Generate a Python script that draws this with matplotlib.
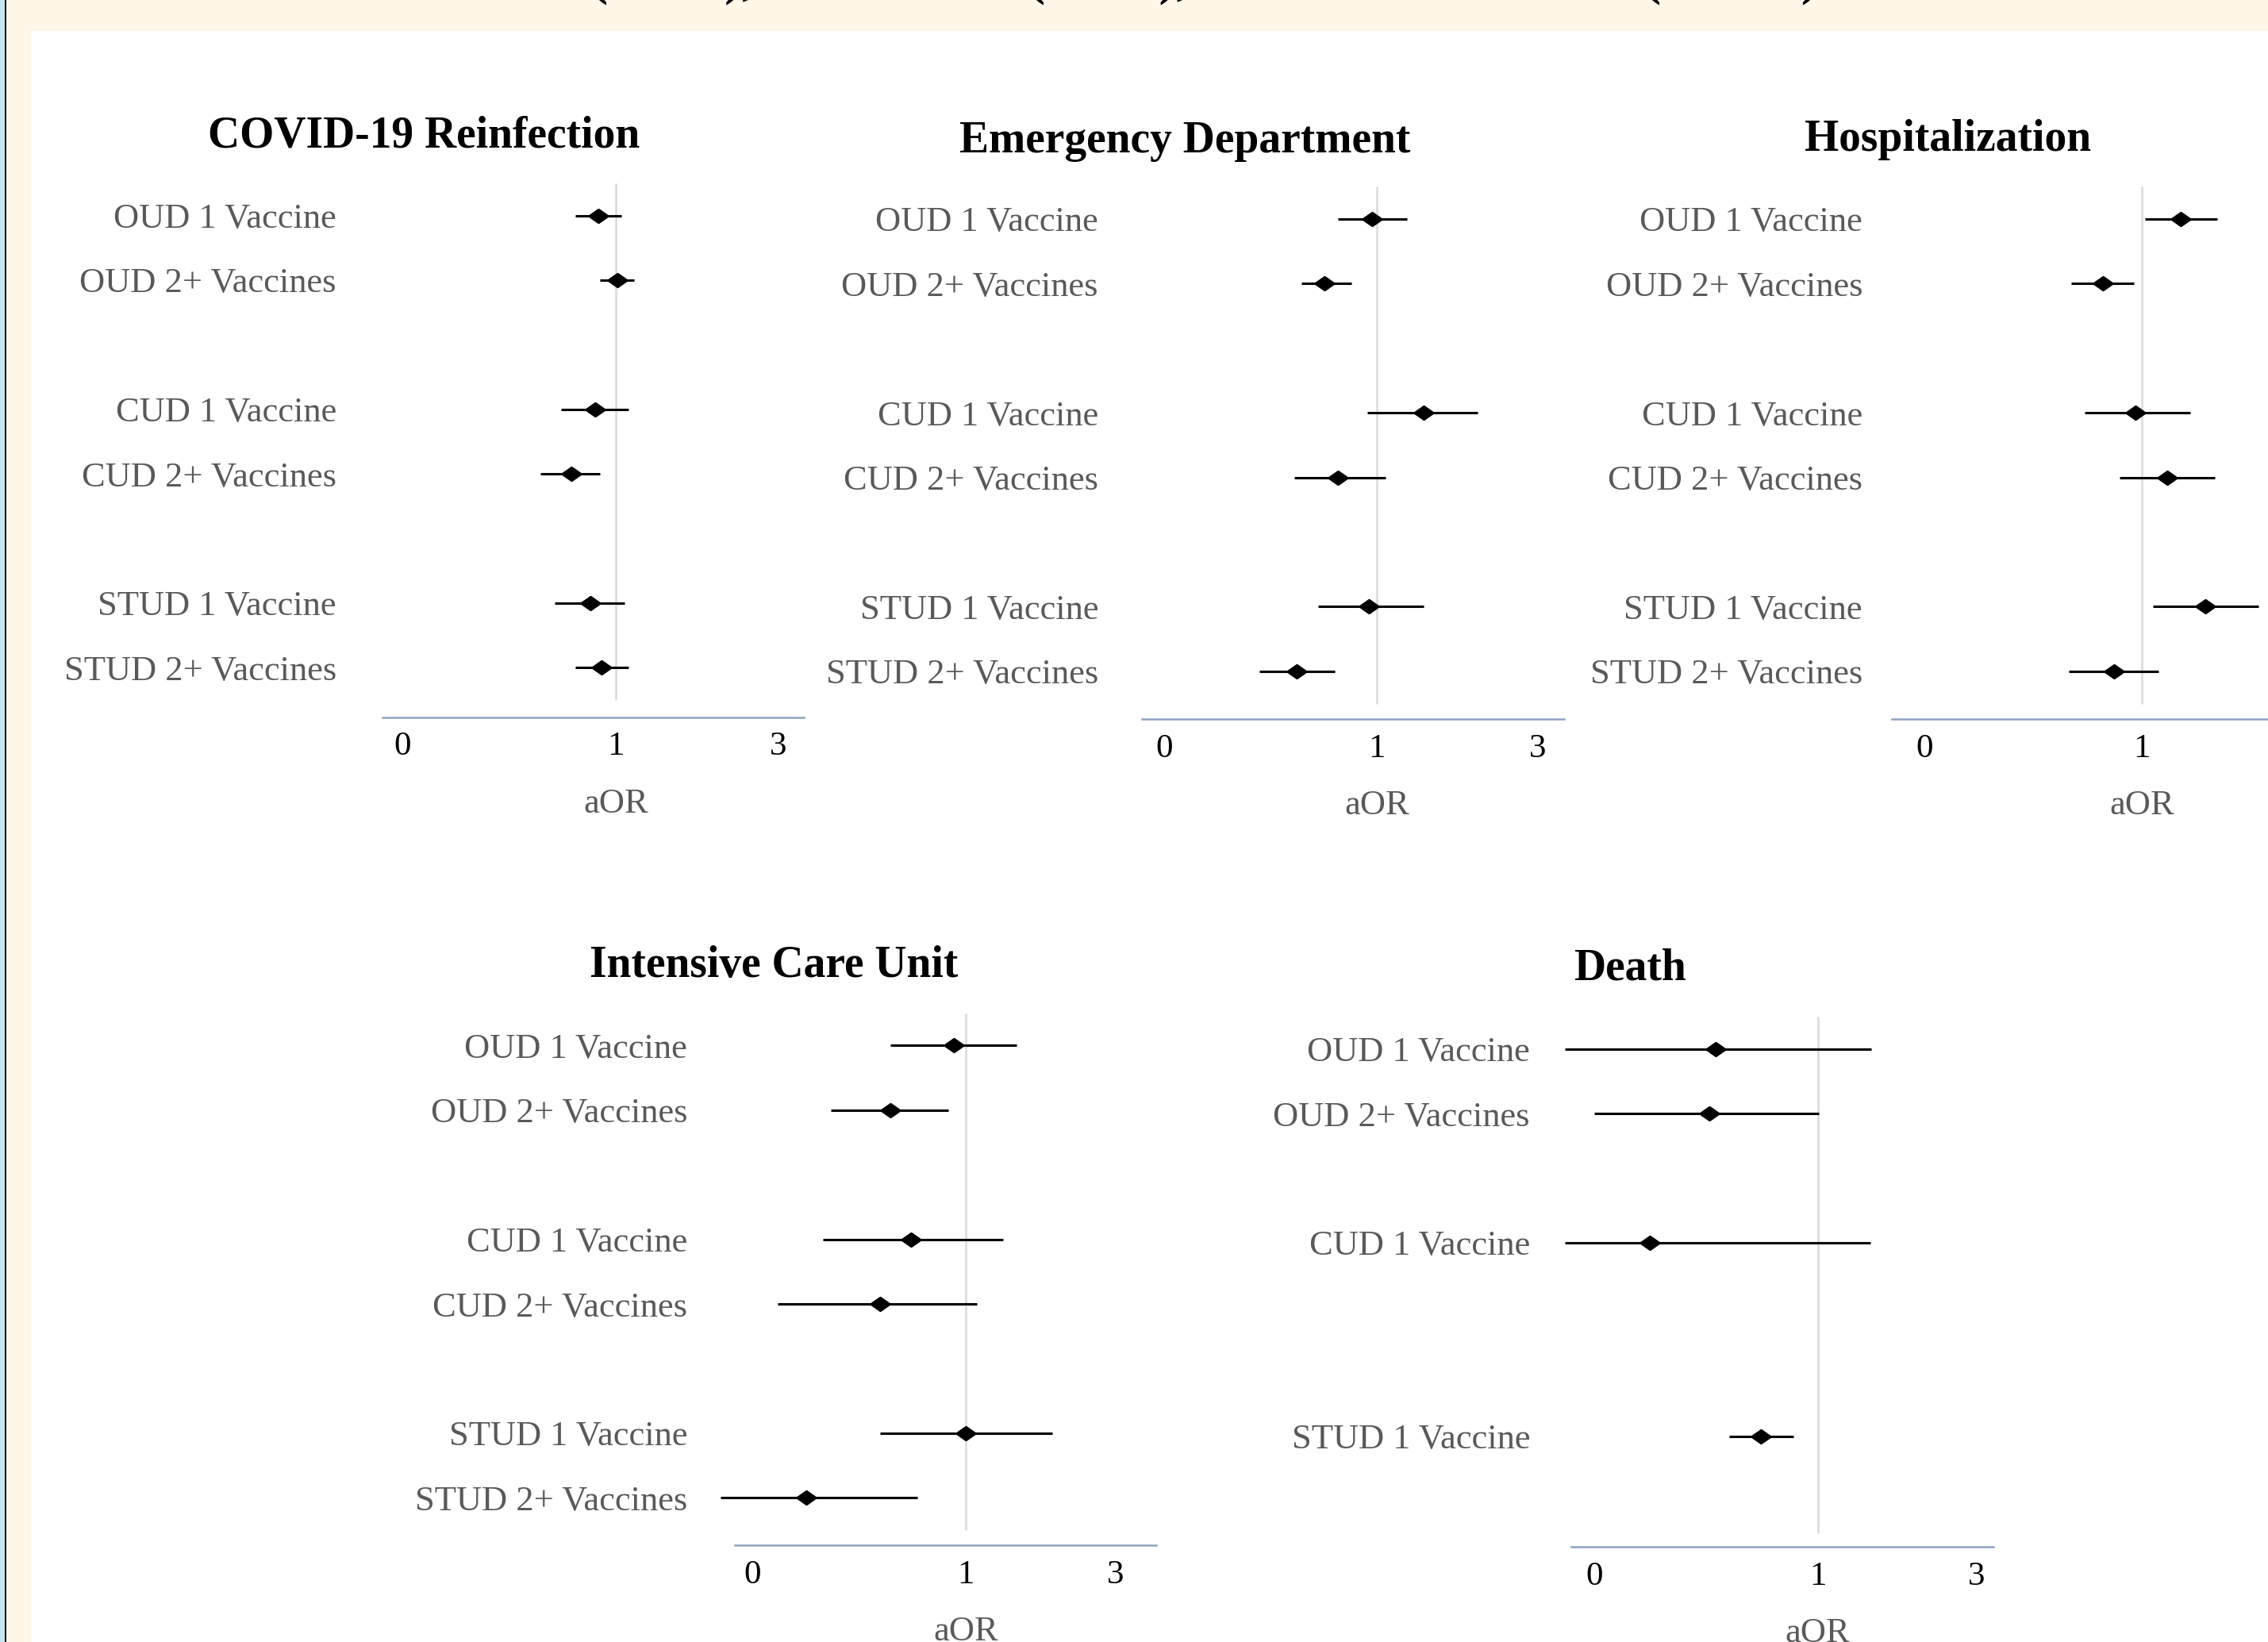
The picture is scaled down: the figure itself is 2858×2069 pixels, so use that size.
import numpy as np
import matplotlib.pyplot as plt
from matplotlib.patches import Rectangle
from matplotlib.path import Path
from matplotlib.ticker import NullLocator

plt.rcParams['font.family'] = ['Liberation Serif', 'DejaVu Serif']

# Row labels and their slots (blank slot between the drug groups)
row_labels = ['OUD 1 Vaccine', 'OUD 2+ Vaccines', 'CUD 1 Vaccine',
              'CUD 2+ Vaccines', 'STUD 1 Vaccine', 'STUD 2+ Vaccines']
row_slots = [0, 1, 3, 4, 6, 7]

titles = ['COVID-19 Reinfection', 'Emergency Department', 'Hospitalization',
          'Intensive Care Unit', 'Death']

# aOR with 95% CI (NaN = not shown)
reinf_aor = [0.89, 1.01, 0.87, 0.74, 0.84, 0.91]
reinf_low = [0.76, 0.90, 0.69, 0.60, 0.66, 0.76]
reinf_high = [1.04, 1.13, 1.09, 0.90, 1.06, 1.09]

ed_aor = [0.97, 0.70, 1.37, 0.77, 0.95, 0.58]
ed_low = [0.77, 0.60, 0.94, 0.57, 0.67, 0.45]
ed_high = [1.23, 0.84, 1.98, 1.06, 1.37, 0.75]

hosp_aor = [1.30, 0.77, 0.96, 1.19, 1.54, 0.83]
hosp_low = [1.02, 0.62, 0.68, 0.86, 1.08, 0.61]
hosp_high = [1.67, 0.95, 1.39, 1.64, 2.20, 1.12]

icu_aor = [0.92, 0.60, 0.69, 0.56, 1.00, 0.34]
icu_low = [0.60, 0.40, 0.38, 0.28, 0.56, 0.19]
icu_high = [1.41, 0.89, 1.29, 1.08, 1.80, 0.72]

death_aor = [0.50, 0.48, 0.32, np.nan, 0.68, np.nan]
death_low = [0.18, 0.22, 0.18, np.nan, 0.55, np.nan]
death_high = [1.44, 1.01, 1.43, np.nan, 0.85, np.nan]

panels = [(reinf_aor, reinf_low, reinf_high),
          (ed_aor, ed_low, ed_high),
          (hosp_aor, hosp_low, hosp_high),
          (icu_aor, icu_low, icu_high),
          (death_aor, death_low, death_high)]

# page layout in pixels
W, H, DPI = 2858, 2069, 200
PPD = 428.0   # pixels per decade on the log axis
SLOT = 81.4   # pixels per row slot
layouts = [
    dict(left=482, x1=776, right=1013, row0=271.5, bottom=903.6, tx=534, ty=185.5, ypad=58, t0=-269, t3=205),
    dict(left=1439, x1=1735, right=1971, row0=276, bottom=906, tx=1493, ty=191.5, ypad=55, t0=-268, t3=203),
    dict(left=2384, x1=2699, right=2936, row0=276, bottom=906, tx=2455, ty=189.7, ypad=37, t0=-274, t3=None),
    dict(left=925.5, x1=1217, right=1456.7, row0=1317.4, bottom=1947, tx=975, ty=1230.6, ypad=59.5, t0=-269, t3=189),
    dict(left=1980, x1=2290.6, right=2512.3, row0=1321.6, bottom=1949, tx=2054, ty=1234.8, ypad=52, t0=-281, t3=200),
]

px2pt = 72.0 / DPI
diamond = Path([(-1, 0), (0, 0.7), (1, 0), (0, -0.7), (-1, 0)],
               [Path.MOVETO, Path.LINETO, Path.LINETO, Path.LINETO, Path.CLOSEPOLY])

fig = plt.figure(figsize=(W / DPI, H / DPI), dpi=DPI)
fig.patch.set_facecolor('#FEF6E7')
fig.add_artist(Rectangle((39 / W, 0), 1, 1 - 39 / H, transform=fig.transFigure,
                         facecolor='white', edgecolor='none', zorder=-10))
fig.add_artist(Rectangle((0, 0), 6 / W, 1, transform=fig.transFigure,
                         facecolor='#C7E7F1', edgecolor='none', zorder=-9))
fig.add_artist(Rectangle((6 / W, 0), 2 / W, 1, transform=fig.transFigure,
                         facecolor='#1A1A1A', edgecolor='none', zorder=-9))

# bottom edge of the poster heading above (mostly cut off)
for txt, xpix in [('(OUD),', 743), ('(CUD),', 1294), ('(STUD)', 2070)]:
    fig.text(xpix / W, 1 + 8 / H, txt, ha='left', va='baseline',
             fontsize=24, fontweight='bold', color='black')

labels_arr = np.array(row_labels)
slots_arr = np.array(row_slots, dtype=float)

for title, (aor, low, high), lay in zip(titles, panels, layouts):
    top = lay['row0'] - 0.5 * SLOT
    bottom_slot = (lay['bottom'] - lay['row0']) / SLOT
    ax = fig.add_axes([lay['left'] / W, 1 - lay['bottom'] / H,
                       (lay['right'] - lay['left']) / W, (lay['bottom'] - top) / H])
    ax.set_xscale('log')
    ax.set_xlim(10 ** (-(lay['x1'] - lay['left']) / PPD), 10 ** ((lay['right'] - lay['x1']) / PPD))
    ax.set_ylim(bottom_slot, -0.5)
    ax.patch.set_alpha(0)
    for s in ['top', 'right', 'left']:
        ax.spines[s].set_visible(False)
    ax.spines['bottom'].set_color('#8FA2C4')
    ax.spines['bottom'].set_linewidth(0.9)

    ax.vlines(1, -0.5, 7.5, color='#D9D9D9', lw=0.9, zorder=1)

    a = np.array(aor, dtype=float)
    lo = np.array(low, dtype=float)
    hi = np.array(high, dtype=float)
    ok = ~np.isnan(a)
    ax.hlines(slots_arr[ok], lo[ok], hi[ok], color='black', lw=1.1, zorder=2, clip_on=False)
    ax.plot(a[ok], slots_arr[ok], ls='none', marker=diamond, ms=8.5,
            color='black', zorder=3, clip_on=False)

    ax.set_yticks(slots_arr[ok], labels_arr[ok])
    ax.tick_params(axis='y', length=0, pad=lay['ypad'] * px2pt, labelsize=16,
                   labelcolor='#595959')
    xt = [10 ** (lay['t0'] / PPD), 1]
    xl = ['0', '1']
    if lay['t3'] is not None:
        xt.append(10 ** (lay['t3'] / PPD))
        xl.append('3')
    ax.set_xticks(xt, xl)
    ax.xaxis.set_minor_locator(NullLocator())
    ax.tick_params(axis='x', which='both', length=0, pad=6.5, labelsize=15.5,
                   labelcolor='black')

    ax.annotate('aOR', xy=(1, 0), xycoords=('data', 'axes fraction'),
                xytext=(0, -120 * px2pt), textcoords='offset points',
                ha='center', va='baseline', fontsize=16, color='#595959',
                annotation_clip=False)

    fig.text(lay['tx'] / W, 1 - lay['ty'] / H, title, ha='center', va='baseline',
             fontsize=20, fontweight='bold', color='black')

fig.savefig('out.png', dpi=DPI, facecolor=fig.get_facecolor())
